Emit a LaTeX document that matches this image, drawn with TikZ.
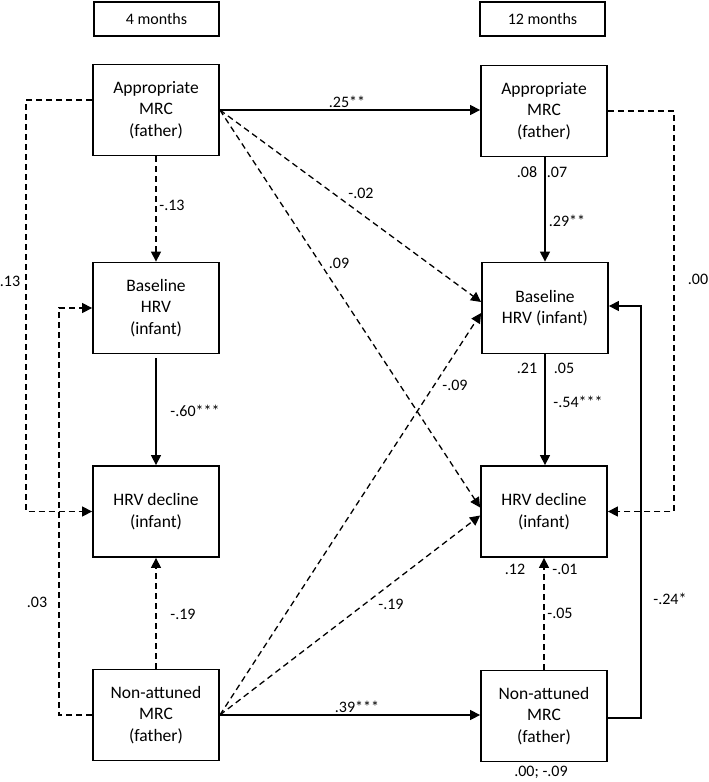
\documentclass[tikz,border=0pt]{standalone}
\usepackage{fontspec}
\setmainfont{Carlito}
\usetikzlibrary{arrows.meta}
\begin{document}
\begin{tikzpicture}[x=1pt,y=-1pt,
  box/.style={draw, line width=1.8pt, minimum width=126pt, minimum height=91pt, align=center, inner sep=0pt, font=\fontsize{17.5}{21.5}\selectfont},
  hdr/.style={draw, line width=1.8pt, minimum width=125pt, minimum height=34pt, inner sep=0pt, font=\fontsize{16}{19}\selectfont},
  lbl/.style={inner sep=0pt, font=\fontsize{16}{19}\selectfont},
  conn/.style={line width=1.3pt, -{Triangle[length=10pt,width=10pt]}},
  plain/.style={line width=1.3pt},
  dsh/.style={dash pattern=on 6pt off 4pt}]
\useasboundingbox (0,0) rectangle (709,782);
% headers
\node[hdr] (h4) at (156.5,19) {4 months};
\node[hdr] (h12) at (542.5,19) {12 months};
% left column
\node[box] (A4) at (156,110) {Appropriate\\MRC\\(father)};
\node[box] (B4) at (156,308) {Baseline\\HRV\\(infant)};
\node[box] (D4) at (156,511.5) {HRV decline\\(infant)};
\node[box] (N4) at (156,715) {Non-attuned\\MRC\\(father)};
% right column
\node[box] (A12) at (544,111) {Appropriate\\MRC\\(father)};
\node[box] (B12) at (545,308) {Baseline\\HRV (infant)};
\node[box] (D12) at (544,511.5) {HRV decline\\(infant)};
\node[box] (N12) at (544,716) {Non-attuned\\MRC\\(father)};
% horizontal paths
\draw[conn] (A4.east) -- (A4.east -| A12.west);
\draw[conn] (N4.east) -- (N4.east -| N12.west);
% vertical paths
\draw[conn,dsh] (A4.south) -- (B4.north);
\draw[conn] ([yshift=-4pt]B4.south) -- (D4.north);
\draw[conn,dsh] (N4.north) -- (D4.south);
\draw[conn] (A12.south -| B12.north) -- (B12.north);
\draw[conn] (B12.south) -- (D12.north -| B12.south);
\draw[conn,dsh] (N12.north) -- (D12.south);
% diagonals
\draw[conn,dsh] (A4.east) -- ([yshift=6pt]B12.west);
\draw[conn,dsh] (A4.east) -- ([yshift=4pt]D12.west);
\draw[conn,dsh] (N4.east) -- ([yshift=-5pt]B12.west);
\draw[conn,dsh] (N4.east) -- ([yshift=-4pt]D12.west);
% side paths
\draw[conn,dsh] ([yshift=10pt]A4.west) -- ++(-66,0) |- (D4.west);
\draw[conn,dsh] (N4.west) -- ++(-33,0) |- (B4.west);
\draw[conn,dsh] (A12.east) -- ++(66,0) |- (D12.east);
\draw[conn] ([yshift=-2pt]N12.east) -- ++(33,0) |- ([yshift=2pt]B12.east);
% labels
\node[lbl] (l1) at (347,102) {.25**};
\node[lbl] (l2) at (10,281) {.13};
\node[lbl] (l3) at (172,205) {-.13};
\node[lbl] (l4) at (361,193) {-.02};
\node[lbl] (l5) at (339,263) {.09};
\node[lbl] (l6) at (195,411) {-.60***};
\node[lbl] (l7) at (37,602) {.03};
\node[lbl] (l8) at (183,614) {-.19};
\node[lbl] (l9) at (455,385) {-.09};
\node[lbl] (l10) at (391,604) {-.19};
\node[lbl] (l11) at (357,707) {.39***};
\node[lbl] (l12) at (527,172) {.08};
\node[lbl] (l13) at (557,172) {.07};
\node[lbl] (l14) at (567,221) {.29**};
\node[lbl] (l15) at (698,279) {.00};
\node[lbl] (l16) at (527,368) {.21};
\node[lbl] (l17) at (564,368) {.05};
\node[lbl] (l18) at (578,402) {-.54***};
\node[lbl] (l19) at (515,569) {.12};
\node[lbl] (l20) at (565,569) {-.01};
\node[lbl] (l21) at (560,613) {-.05};
\node[lbl] (l22) at (670,599) {-.24*};
\node[lbl] (l23) at (541,772) {.00; -.09};
\end{tikzpicture}
\end{document}
